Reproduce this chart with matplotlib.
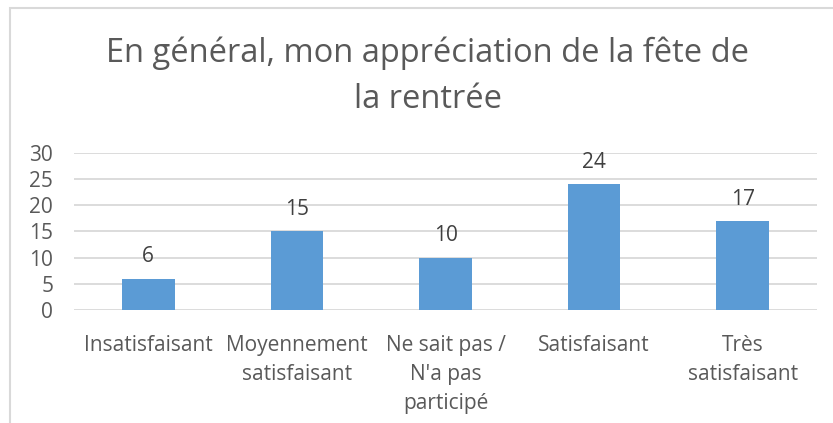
import matplotlib.pyplot as plt
from matplotlib.patches import Rectangle

categories = ["Insatisfaisant", "Moyennement\nsatisfaisant", "Ne sait pas /\nN'a pas\nparticipé",
              "Satisfaisant", "Très\nsatisfaisant"]
values = [6, 15, 10, 24, 17]
yticks = [0, 5, 10, 15, 20, 25, 30]
title = "En général, mon appréciation de la fête de\nla rentrée"

plt.rcParams['font.family'] = ['Open Sans', 'DejaVu Sans']

fig = plt.figure(figsize=(8.33, 4.23), dpi=100)
ax = fig.add_axes([74 / 833, 1 - 310 / 423, (817 - 74) / 833, (310 - 152.7) / 423])

x = range(len(values))
ax.bar(x, values, width=0.355, color='#5B9BD5', zorder=3)
for xi, v in zip(x, values):
    ax.annotate(str(v), (xi, v), xytext=(0, 8), textcoords='offset points',
                ha='center', va='bottom', fontsize=15, color='#404040')

ax.set_xlim(-0.5, len(values) - 0.5)
ax.set_ylim(0, 30)
ax.set_yticks(yticks)
ax.set_xticks(list(x))
ax.set_xticklabels(categories, fontsize=15, color='#595959', linespacing=1.5, va='top')
ax.tick_params(axis='y', labelsize=15, labelcolor='#595959', length=0, pad=15)
ax.tick_params(axis='x', length=0, pad=18)
ax.grid(axis='y', color='#d9d9d9', linewidth=1.3, zorder=0)
for s in ax.spines.values():
    s.set_visible(False)

fig.text(428 / 833, 1 - 37 / 423, title, ha='center', va='top', fontsize=23.5, color='#595959',
         linespacing=1.5)

# chart border (Excel style, clipped by the image)
fig.patches.append(Rectangle((10 / 833, -0.1), 1.2, 1 - 8 / 423 + 0.1, transform=fig.transFigure,
                             fill=False, edgecolor='#d9d9d9', linewidth=1.5))

fig.savefig('out.png', dpi=100)
